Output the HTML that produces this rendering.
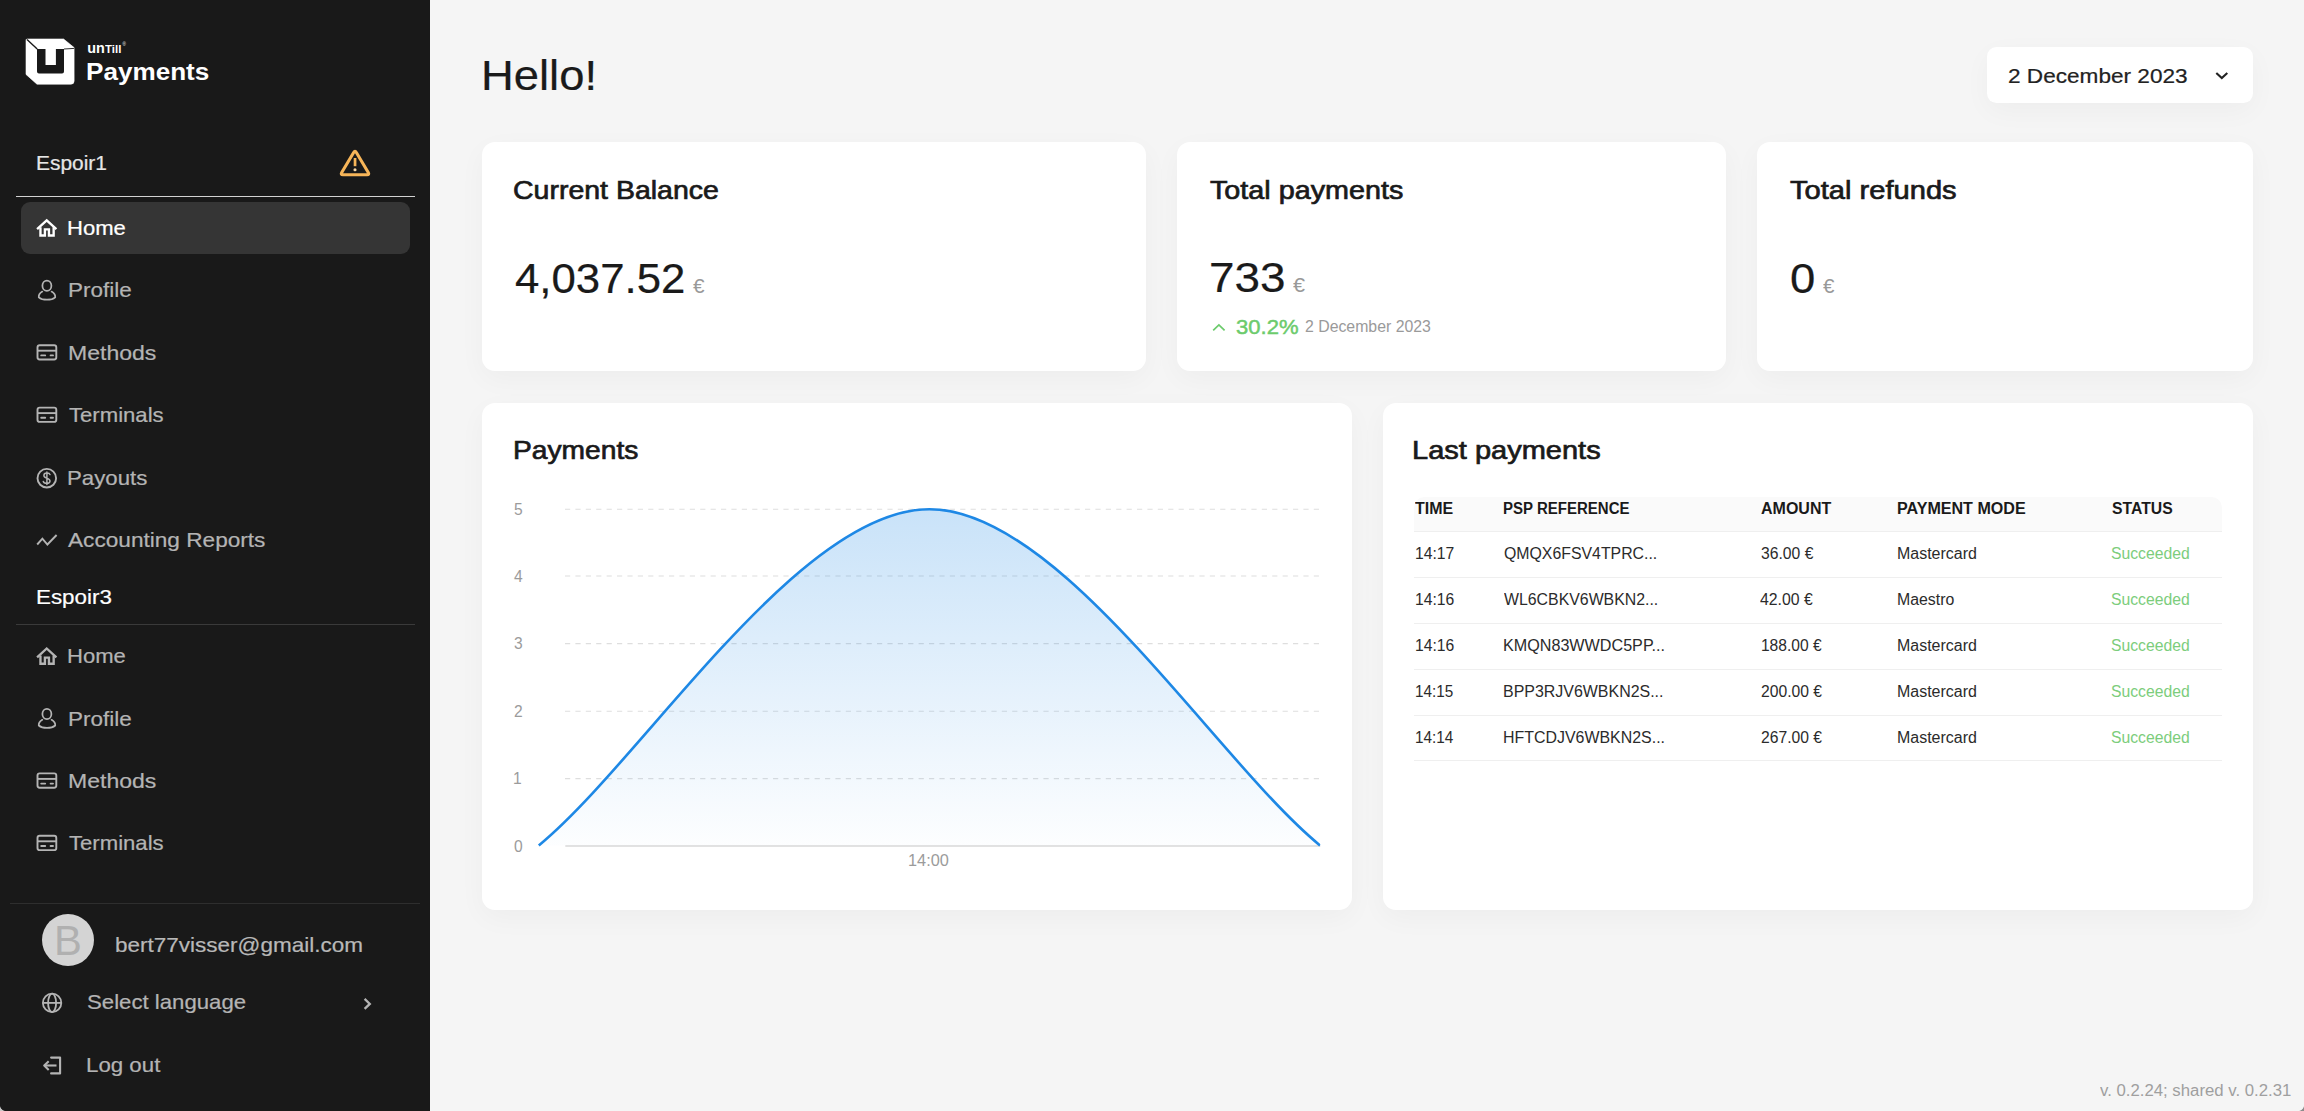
<!DOCTYPE html>
<html lang="en">
<head>
<meta charset="utf-8">
<title>unTill Payments</title>
<style>
html,body{margin:0;padding:0;}
body{width:2304px;height:1111px;overflow:hidden;background:#f5f5f5;position:relative;font-family:"Liberation Sans",sans-serif;}
.t{position:absolute;transform-origin:0 0;line-height:1;white-space:nowrap;font-family:"Liberation Sans",sans-serif;}
.abs{position:absolute;}
#side{left:0;top:0;width:430px;height:1111px;background:#191919;}
.card{position:absolute;background:#fff;border-radius:13px;box-shadow:0 8px 28px rgba(0,0,0,0.035);}
.sep{position:absolute;height:1.3px;}
.rowline{position:absolute;left:1414px;width:807.5px;height:1.3px;background:#efefef;}
svg{position:absolute;left:0;top:0;}
</style>
</head>
<body>
<div id="side" class="abs"></div>
<!-- sidebar separators / active item -->
<div class="sep" style="left:16px;top:195.8px;width:399px;background:#d2d2d2;"></div>
<div class="abs" style="left:21px;top:202.3px;width:389px;height:51.7px;border-radius:9px;background:#353535;"></div>
<div class="sep" style="left:16px;top:623.8px;width:399px;background:#3a3a3a;"></div>
<div class="sep" style="left:10px;top:902.6px;width:410px;background:#2e2e2e;"></div>
<div class="abs" style="left:41.6px;top:913.8px;width:52.6px;height:52.6px;border-radius:50%;background:#d4d4d4;"></div>

<!-- main cards -->
<div class="card" style="left:1987px;top:46.7px;width:266px;height:56.8px;border-radius:9.5px;"></div>
<div class="card" style="left:481.6px;top:142px;width:664.5px;height:229.4px;"></div>
<div class="card" style="left:1177.1px;top:142px;width:548.9px;height:229.4px;"></div>
<div class="card" style="left:1757px;top:142px;width:496px;height:229.4px;"></div>
<div class="card" style="left:481.6px;top:403px;width:870.2px;height:507.3px;"></div>
<div class="card" style="left:1383px;top:403px;width:870px;height:507.3px;"></div>

<!-- table -->
<div class="abs" style="left:1414px;top:497.2px;width:807.5px;height:34.2px;background:#fafafa;border-radius:10.4px 10.4px 0 0;"></div>
<div class="rowline" style="top:530.8px;"></div>
<div class="rowline" style="top:576.7px;"></div>
<div class="rowline" style="top:622.6px;"></div>
<div class="rowline" style="top:668.6px;"></div>
<div class="rowline" style="top:714.6px;"></div>
<div class="rowline" style="top:759.9px;"></div>

<svg width="2304" height="1111" viewBox="0 0 2304 1111">
<defs>
<linearGradient id="ag" x1="0" y1="509" x2="0" y2="846" gradientUnits="userSpaceOnUse">
<stop offset="0" stop-color="#1e88e5" stop-opacity="0.24"/>
<stop offset="1" stop-color="#1e88e5" stop-opacity="0.01"/>
</linearGradient>
<clipPath id="cp"><rect x="530" y="500" width="790.4" height="352"/></clipPath>
<g id="ic-home" fill="none" stroke-width="2.35" stroke-linejoin="miter" stroke-linecap="butt">
<path d="M37.1 229.2 L46.7 220.3 L56.4 229.2"/>
<path d="M40.45 227.2 V235.5 H44.9 V229.4 H48.95 V235.5 H53.65 V227.2"/>
</g>
<g id="ic-user" fill="none" stroke-width="1.75" stroke-linecap="round">
<ellipse cx="46.9" cy="285.8" rx="4.5" ry="5.1"/>
<path d="M42.3 291.6 C39.6 293.2 38.6 295.8 38.8 297.3 C42.5 300.5 51.5 300.5 55.2 297.3 C55.4 295.8 54.3 293.2 51.6 291.6"/>
</g>
<g id="ic-card" fill="none" stroke-width="1.9" stroke-linecap="round">
<rect x="37.5" y="345.2" width="18.8" height="14.3" rx="2.2"/>
<path d="M37.5 350.7 H56.3" stroke-linecap="butt"/>
<path d="M41.2 355.4 H45.2 M50.6 355.4 H53"/>
</g>
</defs>

<!-- logo -->
<g>
<path d="M26.8 39 L63.6 39 L74.1 47.6 L74.1 81 Q74.1 84.2 70.9 84.2 L37 84.2 L26 74.4 L26 39.8 Z" fill="#fff" stroke="#fff" stroke-width="0.6" stroke-linejoin="round"/>
<path d="M37 48.9 H45.5 V65 H55.9 V48.9 H64 V71.6 Q64 73.6 62 73.6 H39 Q37 73.6 37 71.6 Z" fill="#191919"/>
<path d="M27 39.6 L37.2 48.9" stroke="#191919" stroke-width="1.4" fill="none"/>
<path d="M64 49 L74.2 48.4" stroke="#191919" stroke-width="0.9" fill="none"/>
</g>

<!-- warning -->
<g fill="none" stroke="#f7b558" stroke-width="3.1" stroke-linejoin="round" stroke-linecap="round">
<path d="M356.34 152.53 L368.27 172.47 Q369.6 174.7 367 174.7 L343 174.7 Q340.4 174.7 341.73 172.47 L353.66 152.53 Q355 150.3 356.34 152.53 Z"/>
</g>
<rect x="353.7" y="158" width="2.7" height="8.2" fill="#f7b558"/>
<circle cx="355" cy="169.8" r="1.55" fill="#fbd9a5"/>

<!-- menu icons group 1 -->
<use href="#ic-home" stroke="#ffffff"/>
<use href="#ic-user" stroke="#b4b4b4"/>
<use href="#ic-card" stroke="#b4b4b4"/>
<use href="#ic-card" stroke="#b4b4b4" transform="translate(0 62.4)"/>
<g fill="none" stroke="#b4b4b4">
<circle cx="46.8" cy="478.2" r="9.3" stroke-width="1.9"/>
<path d="M50 474.6 C49.4 472.6 44 472.3 43.9 475.4 C43.8 478.6 50 477.6 50 481 C50 484.2 43.9 483.9 43.3 481.5 M46.9 472.1 V484.6" stroke-width="1.5" stroke-linecap="round"/>
<path d="M37.2 544.5 L42.4 538.7 L47.4 544.5 L56.6 535" stroke-width="1.9" stroke-linejoin="miter"/>
</g>
<!-- menu icons group 2 -->
<g transform="translate(0 428.2)">
<use href="#ic-home" stroke="#b4b4b4"/>
<use href="#ic-user" stroke="#b4b4b4"/>
<use href="#ic-card" stroke="#b4b4b4"/>
<use href="#ic-card" stroke="#b4b4b4" transform="translate(0 62.4)"/>
</g>
<!-- globe -->
<g fill="none" stroke="#b4b4b4" stroke-width="1.8">
<circle cx="52.1" cy="1002.9" r="9.2"/>
<ellipse cx="52.1" cy="1002.9" rx="4" ry="9.2"/>
<path d="M42.9 1002.9 H61.3"/>
</g>
<!-- chevron right -->
<path d="M364.6 998.9 L369.8 1003.9 L364.6 1008.9" fill="none" stroke="#b4b4b4" stroke-width="2.3"/>
<!-- logout -->
<g fill="none" stroke="#b4b4b4" stroke-width="2.1" stroke-linejoin="round">
<path d="M51.1 1057.6 H60.1 V1073.4 H51.1" stroke-linecap="round"/>
<path d="M56.5 1065.5 H44.6"/>
<path d="M48.7 1061.2 L44.2 1065.5 L48.7 1069.9"/>
</g>

<!-- dropdown chevron -->
<path d="M2216.3 72.9 L2221.8 78 L2227.3 72.9" fill="none" stroke="#222" stroke-width="2.1"/>
<!-- caret up -->
<path d="M1213.2 330.3 L1218.9 324.9 L1224.6 330.3" fill="none" stroke="#6ccb6c" stroke-width="1.7"/>

<!-- chart -->
<g stroke="#dedede" stroke-width="1.1" stroke-dasharray="5.2 5.2" fill="none">
<path d="M565 509.2 H1320.3"/>
<path d="M565 576 H1320.3"/>
<path d="M565 643.6 H1320.3"/>
<path d="M565 711.2 H1320.3"/>
<path d="M565 778.6 H1320.3"/>
</g>
<path d="M565.3 846 H1320.3" stroke="#d9d9d9" stroke-width="1.6" fill="none"/>
<g clip-path="url(#cp)">
<path d="M538.8 845.4 C642.8 760.1 798.4 509.2 929.4 509.2 C1060.4 509.2 1216 760.1 1320 845.4 Z" fill="url(#ag)"/>
<path d="M538.8 845.4 C642.8 760.1 798.4 509.2 929.4 509.2 C1060.4 509.2 1216 760.1 1320 845.4" fill="none" stroke="#1e88e5" stroke-width="2.6" stroke-linecap="butt"/>
</g>
</svg>

<div class="abs" style="left:0;top:1105px;width:6px;height:6px;background:radial-gradient(circle at 100% 0%, rgba(200,200,200,0) 5.6px, #c8c8c8 6.4px);"></div>
<div class="abs" style="left:2298px;top:1105px;width:6px;height:6px;background:radial-gradient(circle at 0% 0%, rgba(140,140,140,0) 5.6px, #8c8c8c 6.4px);"></div>
<span class="t" style="left:87.20px;top:40.50px;font-size:14.4px;color:#ffffff;font-weight:700;">un</span><span class="t" style="left:105.20px;top:43.50px;font-size:10.5px;color:#ffffff;font-weight:700;transform:scaleX(1.0891);">Till</span>
<span class="t" style="left:122.40px;top:43.20px;font-size:4.6px;color:#ffffff;">®</span>
<span class="t" style="left:85.68px;top:60.75px;font-size:23.3px;color:#ffffff;font-weight:700;transform:scaleX(1.1201);">Payments</span>
<span class="t" style="left:36.29px;top:152.70px;font-size:20.8px;color:#e6e6e6;transform:scaleX(1.0051);-webkit-text-stroke:0.22px;">Espoir1</span>
<span class="t" style="left:67.44px;top:218.00px;font-size:20.8px;color:#ffffff;transform:scaleX(1.0610);-webkit-text-stroke:0.22px;">Home</span>
<span class="t" style="left:67.92px;top:280.40px;font-size:20.8px;color:#b4b4b4;transform:scaleX(1.0805);-webkit-text-stroke:0.22px;">Profile</span>
<span class="t" style="left:67.89px;top:342.80px;font-size:20.8px;color:#b4b4b4;transform:scaleX(1.1076);-webkit-text-stroke:0.22px;">Methods</span>
<span class="t" style="left:68.60px;top:405.30px;font-size:20.8px;color:#b4b4b4;transform:scaleX(1.0634);-webkit-text-stroke:0.22px;">Terminals</span>
<span class="t" style="left:67.23px;top:467.70px;font-size:20.8px;color:#b4b4b4;transform:scaleX(1.0685);-webkit-text-stroke:0.22px;">Payouts</span>
<span class="t" style="left:67.90px;top:530.30px;font-size:20.8px;color:#b4b4b4;transform:scaleX(1.0878);-webkit-text-stroke:0.22px;">Accounting Reports</span>
<span class="t" style="left:35.82px;top:587.20px;font-size:20.8px;color:#ffffff;transform:scaleX(1.0762);-webkit-text-stroke:0.2px #fff;">Espoir3</span>
<span class="t" style="left:67.44px;top:646.20px;font-size:20.8px;color:#b4b4b4;transform:scaleX(1.0610);-webkit-text-stroke:0.22px;">Home</span>
<span class="t" style="left:67.92px;top:708.60px;font-size:20.8px;color:#b4b4b4;transform:scaleX(1.0805);-webkit-text-stroke:0.22px;">Profile</span>
<span class="t" style="left:67.89px;top:771.00px;font-size:20.8px;color:#b4b4b4;transform:scaleX(1.1076);-webkit-text-stroke:0.22px;">Methods</span>
<span class="t" style="left:68.60px;top:833.40px;font-size:20.8px;color:#b4b4b4;transform:scaleX(1.0634);-webkit-text-stroke:0.22px;">Terminals</span>
<span class="t" style="left:54.00px;top:919.70px;font-size:41.8px;color:#b0b0b0;">B</span>
<span class="t" style="left:114.52px;top:934.60px;font-size:20.8px;color:#b8b8b8;transform:scaleX(1.0819);-webkit-text-stroke:0.22px;">bert77visser@gmail.com</span>
<span class="t" style="left:86.90px;top:992.40px;font-size:20.8px;color:#b4b4b4;transform:scaleX(1.0666);-webkit-text-stroke:0.22px;">Select language</span>
<span class="t" style="left:86.23px;top:1054.80px;font-size:20.8px;color:#b4b4b4;transform:scaleX(1.0713);-webkit-text-stroke:0.22px;">Log out</span>
<span class="t" style="left:481.35px;top:55.30px;font-size:41.9px;color:#1a1a1a;transform:scaleX(1.0830);-webkit-text-stroke:0.22px;">Hello!</span>
<span class="t" style="left:2007.91px;top:65.60px;font-size:20.8px;color:#222;transform:scaleX(1.0864);-webkit-text-stroke:0.22px;">2 December 2023</span>
<span class="t" style="left:512.91px;top:176.75px;font-size:26.1px;color:#1a1a1a;transform:scaleX(1.0917);-webkit-text-stroke:0.7px #1a1a1a;">Current Balance</span>
<span class="t" style="left:515.10px;top:257.50px;font-size:41.9px;color:#1a1a1a;transform:scaleX(1.0447);-webkit-text-stroke:0.22px;">4,037.52</span>
<span class="t" style="left:693.00px;top:275.50px;font-size:20.8px;color:#999;">€</span>
<span class="t" style="left:1210.10px;top:176.75px;font-size:26.1px;color:#1a1a1a;transform:scaleX(1.1012);-webkit-text-stroke:0.7px #1a1a1a;">Total payments</span>
<span class="t" style="left:1208.51px;top:257.30px;font-size:41.9px;color:#1a1a1a;transform:scaleX(1.0947);-webkit-text-stroke:0.22px;">733</span>
<span class="t" style="left:1292.80px;top:275.30px;font-size:20.8px;color:#999;transform:scaleX(1.0417);">€</span>
<span class="t" style="left:1235.90px;top:316.70px;font-size:20.8px;color:#6ccb6c;transform:scaleX(1.0603);-webkit-text-stroke:0.45px #6ccb6c;">30.2%</span>
<span class="t" style="left:1305.20px;top:319.30px;font-size:15.6px;color:#9a9a9a;transform:scaleX(1.0155);">2 December 2023</span>
<span class="t" style="left:1790.10px;top:176.75px;font-size:26.1px;color:#1a1a1a;transform:scaleX(1.1155);-webkit-text-stroke:0.7px #1a1a1a;">Total refunds</span>
<span class="t" style="left:1789.61px;top:257.50px;font-size:41.9px;color:#1a1a1a;transform:scaleX(1.0857);-webkit-text-stroke:0.22px;">0</span>
<span class="t" style="left:1822.60px;top:275.50px;font-size:20.8px;color:#999;transform:scaleX(0.9917);">€</span>
<span class="t" style="left:512.64px;top:437.10px;font-size:26.1px;color:#1a1a1a;transform:scaleX(1.0810);-webkit-text-stroke:0.7px #1a1a1a;">Payments</span>
<span class="t" style="left:1412.18px;top:437.20px;font-size:26.1px;color:#1a1a1a;transform:scaleX(1.1118);-webkit-text-stroke:0.7px #1a1a1a;">Last payments</span>
<span class="t" style="left:514.00px;top:501.80px;font-size:15.6px;color:#9b9b9b;">5</span>
<span class="t" style="left:514.00px;top:568.60px;font-size:15.6px;color:#9b9b9b;">4</span>
<span class="t" style="left:514.00px;top:636.20px;font-size:15.6px;color:#9b9b9b;">3</span>
<span class="t" style="left:514.00px;top:703.80px;font-size:15.6px;color:#9b9b9b;">2</span>
<span class="t" style="left:513.00px;top:771.20px;font-size:15.6px;color:#9b9b9b;">1</span>
<span class="t" style="left:514.00px;top:838.60px;font-size:15.6px;color:#9b9b9b;">0</span>
<span class="t" style="left:907.85px;top:853.00px;font-size:15.6px;color:#9b9b9b;transform:scaleX(1.0456);">14:00</span>
<span class="t" style="left:1415.00px;top:500.80px;font-size:15.6px;color:#1a1a1a;font-weight:700;transform:scaleX(1.0231);">TIME</span>
<span class="t" style="left:1502.84px;top:500.80px;font-size:15.6px;color:#1a1a1a;font-weight:700;transform:scaleX(0.9623);">PSP REFERENCE</span>
<span class="t" style="left:1760.80px;top:500.80px;font-size:15.6px;color:#1a1a1a;font-weight:700;transform:scaleX(1.0261);">AMOUNT</span>
<span class="t" style="left:1897.27px;top:500.80px;font-size:15.6px;color:#1a1a1a;font-weight:700;transform:scaleX(1.0311);">PAYMENT MODE</span>
<span class="t" style="left:2111.50px;top:500.80px;font-size:15.6px;color:#1a1a1a;font-weight:700;transform:scaleX(1.0108);">STATUS</span>
<span class="t" style="left:1414.59px;top:545.75px;font-size:15.6px;color:#2b2b2b;transform:scaleX(1.0067);">14:17</span>
<span class="t" style="left:1504.10px;top:545.75px;font-size:15.6px;color:#2b2b2b;transform:scaleX(1.0165);">QMQX6FSV4TPRC...</span>
<span class="t" style="left:1760.60px;top:545.75px;font-size:15.6px;color:#2b2b2b;transform:scaleX(1.0066);">36.00 €</span>
<span class="t" style="left:1897.38px;top:545.75px;font-size:15.6px;color:#2b2b2b;transform:scaleX(1.0246);">Mastercard</span>
<span class="t" style="left:2111.30px;top:545.75px;font-size:15.6px;color:#7ccd7c;transform:scaleX(1.0083);">Succeeded</span>
<span class="t" style="left:1414.59px;top:591.79px;font-size:15.6px;color:#2b2b2b;transform:scaleX(1.0067);">14:16</span>
<span class="t" style="left:1504.10px;top:591.79px;font-size:15.6px;color:#2b2b2b;transform:scaleX(1.0172);">WL6CBKV6WBKN2...</span>
<span class="t" style="left:1760.20px;top:591.79px;font-size:15.6px;color:#2b2b2b;transform:scaleX(1.0142);">42.00 €</span>
<span class="t" style="left:1897.38px;top:591.79px;font-size:15.6px;color:#2b2b2b;transform:scaleX(1.0169);">Maestro</span>
<span class="t" style="left:2111.30px;top:591.79px;font-size:15.6px;color:#7ccd7c;transform:scaleX(1.0083);">Succeeded</span>
<span class="t" style="left:1414.59px;top:637.83px;font-size:15.6px;color:#2b2b2b;transform:scaleX(1.0067);">14:16</span>
<span class="t" style="left:1503.07px;top:637.83px;font-size:15.6px;color:#2b2b2b;transform:scaleX(1.0349);">KMQN83WWDC5PP...</span>
<span class="t" style="left:1760.90px;top:637.83px;font-size:15.6px;color:#2b2b2b;">188.00 €</span>
<span class="t" style="left:1897.38px;top:637.83px;font-size:15.6px;color:#2b2b2b;transform:scaleX(1.0246);">Mastercard</span>
<span class="t" style="left:2111.30px;top:637.83px;font-size:15.6px;color:#7ccd7c;transform:scaleX(1.0083);">Succeeded</span>
<span class="t" style="left:1414.62px;top:683.87px;font-size:15.6px;color:#2b2b2b;transform:scaleX(0.9804);">14:15</span>
<span class="t" style="left:1503.08px;top:683.87px;font-size:15.6px;color:#2b2b2b;transform:scaleX(1.0231);">BPP3RJV6WBKN2S...</span>
<span class="t" style="left:1760.60px;top:683.87px;font-size:15.6px;color:#2b2b2b;transform:scaleX(1.0061);">200.00 €</span>
<span class="t" style="left:1897.38px;top:683.87px;font-size:15.6px;color:#2b2b2b;transform:scaleX(1.0246);">Mastercard</span>
<span class="t" style="left:2111.30px;top:683.87px;font-size:15.6px;color:#7ccd7c;transform:scaleX(1.0083);">Succeeded</span>
<span class="t" style="left:1414.62px;top:729.91px;font-size:15.6px;color:#2b2b2b;transform:scaleX(0.9804);">14:14</span>
<span class="t" style="left:1503.08px;top:729.91px;font-size:15.6px;color:#2b2b2b;transform:scaleX(1.0216);">HFTCDJV6WBKN2S...</span>
<span class="t" style="left:1760.60px;top:729.91px;font-size:15.6px;color:#2b2b2b;transform:scaleX(1.0061);">267.00 €</span>
<span class="t" style="left:1897.38px;top:729.91px;font-size:15.6px;color:#2b2b2b;transform:scaleX(1.0246);">Mastercard</span>
<span class="t" style="left:2111.30px;top:729.91px;font-size:15.6px;color:#7ccd7c;transform:scaleX(1.0083);">Succeeded</span>
<span class="t" style="left:2099.90px;top:1083.20px;font-size:15.6px;color:#9f9f9f;transform:scaleX(1.0749);">v. 0.2.24; shared v. 0.2.31</span>
</body>
</html>
